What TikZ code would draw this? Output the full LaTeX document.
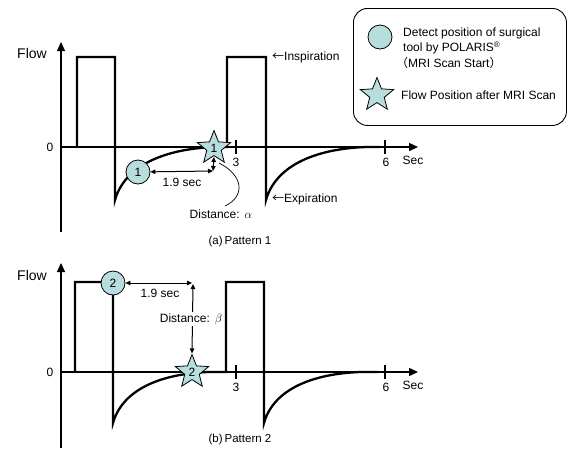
\documentclass[tikz,border=0pt]{standalone}
\usepackage{fontspec}
\setmainfont{Liberation Sans}
\newfontfamily\cjk{Noto Sans CJK JP}
\usetikzlibrary{shapes.geometric,arrows.meta}
\definecolor{tealfill}{RGB}{183,221,222}
\begin{document}
\begin{tikzpicture}[x=1pt,y=-1pt,
  every node/.style={font=\fontsize{12}{14}\selectfont, inner sep=0pt},
  axis/.style={line width=1.4pt, -{Triangle[length=9pt,width=8pt]}},
  wave/.style={line width=2.3pt, line join=miter},
  tickmark/.style={line width=2pt},
  dim/.style={line width=1pt, {Triangle[length=5pt,width=4.5pt]}-{Triangle[length=5pt,width=4.5pt]}},
  pointer/.style={line width=0.7pt},
  marker/.style={circle, draw, fill=tealfill, line width=0.8pt, minimum size=24pt},
  starmark/.style={star, star points=5, star point ratio=2.3, draw, fill=tealfill, line width=0.8pt, minimum size=35pt},
  legendbox/.style={draw, line width=0.9pt, rounded corners=14pt}
]
\useasboundingbox (0,0) rectangle (567,448);

% ---------------- Legend ----------------
\node[legendbox, minimum width=213pt, minimum height=117pt, anchor=north west] (legend) at (353,8) {};
\node[marker] (lc) at (380,37) {};
\node[anchor=west] (lt1) at (403,33) {Detect position of surgical};
\node[anchor=west] (lt2) at (403,48) {tool by POLARIS\textsuperscript{\fontsize{8}{8}\selectfont ®}};
\node[anchor=west] (lt3) at (396,63) {{\cjk （}MRI Scan Start{\cjk ）}};
\node[starmark] (ls) at (377,95) {};
\node[anchor=west] (lt4) at (401,95) {Flow Position after MRI Scan};

% ---------------- Pattern 1 ----------------
\coordinate (y1b) at (61,232);
\coordinate (y1t) at (61,42);
\coordinate (x1l) at (61,147);
\coordinate (x1r) at (418,147);
\draw[axis] (y1b) -- (y1t);
\draw[axis] (x1l) -- (x1r);
\node (flow1) at (32,53) {\fontsize{14}{14}\selectfont Flow};
\node (zero1) at (50,147) {0};

\draw[wave] (77,147) -- (77,57) -- (115,57) -- (115,200)
  .. controls (124,168) and (160,149) .. (215,147) -- (227,147)
  -- (227,57) -- (266,57) -- (266,200)
  .. controls (275,168) and (311,149) .. (366,147) -- (380,147);

\coordinate (t3a) at (236,140); \coordinate (t3b) at (236,154);
\coordinate (t6a) at (385,140); \coordinate (t6b) at (385,154);
\draw[tickmark] (t3a) -- (t3b);
\draw[tickmark] (t6a) -- (t6b);
\node (l3a) at (236,162) {3};
\node (l6a) at (386,162) {6};
\node (seca) at (413,160) {Sec};

\node[anchor=west] (insp) at (272,57) {{\cjk ←}Inspiration};
\node[anchor=west] (expi) at (272,199) {{\cjk ←}Expiration};

\node[marker] (c1) at (138,172) {1};
\node[starmark] (s1) at (214,148) {1};

\coordinate (h1r) at (213,171);
\coordinate (v1t) at (214,157);
\draw[dim] (c1) -- (h1r);
\draw[dim] (v1t) -- (h1r);
\node (sec1) at (182,182) {1.9 sec};

\coordinate (p1s) at (219,163);
\node (dista) at (221,214) {Distance:\hspace{5pt}$\alpha$};
\draw[pointer] (p1s) .. controls (243,175) and (246,196) .. (225,206);

\node (capa) at (240,242) {\fontsize{11.5}{12}\selectfont (a)\hspace{2pt}Pattern 1};

% ---------------- Pattern 2 ----------------
\coordinate (y2b) at (61,448);
\coordinate (y2t) at (61,263);
\coordinate (x2l) at (61,372);
\coordinate (x2r) at (418,372);
\draw[axis] (y2b) -- (y2t);
\draw[axis] (x2l) -- (x2r);
\node (flow2) at (32,275) {\fontsize{14}{14}\selectfont Flow};
\node (zero2) at (50,372) {0};

\draw[wave] (75,372) -- (75,282) -- (113,282) -- (113,423)
  .. controls (122,391) and (158,374) .. (208,372) -- (226,372)
  -- (226,282) -- (264,282) -- (264,423)
  .. controls (273,391) and (309,374) .. (360,372) -- (378,372);

\coordinate (u3a) at (236,365); \coordinate (u3b) at (236,379);
\coordinate (u6a) at (385,365); \coordinate (u6b) at (385,379);
\draw[tickmark] (u3a) -- (u3b);
\draw[tickmark] (u6a) -- (u6b);
\node (l3b) at (236,387) {3};
\node (l6b) at (386,387) {6};
\node (secb) at (413,385) {Sec};

\node[marker] (c2) at (113,283) {2};
\node[starmark] (s2) at (192,372) {2};

\coordinate (h2r) at (192,283);
\draw[dim] (c2) -- (h2r);
\draw[dim] (193,284) -- (s2.north);
\node[fill=white, inner sep=1pt] (distb) at (191,319) {Distance:\hspace{5pt}$\beta$};
\node (sec2) at (160,293) {1.9 sec};

\node (capb) at (240,440) {\fontsize{11.5}{12}\selectfont (b)\hspace{2pt}Pattern 2};
\end{tikzpicture}
\end{document}
